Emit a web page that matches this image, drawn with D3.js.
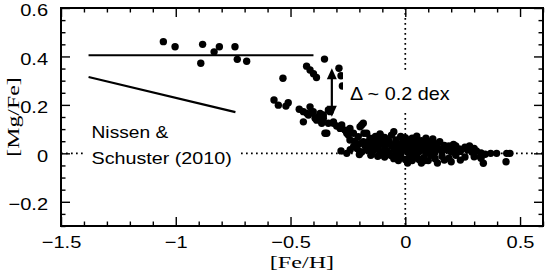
<!DOCTYPE html>
<html><head><meta charset="utf-8">
<script src="https://cdn.jsdelivr.net/npm/d3@7"></script>
<style>body{margin:0;background:#fff}svg{display:block}</style>
</head><body><svg id="c" width="545" height="276"></svg>
<script>
// ---- tick values / labels ----
const xMajor = [-1.5, -1, -0.5, 0, 0.5];
const xLabels = ["−1.5", "−1", "−0.5", "0", "0.5"];
const yMajor = [0.6, 0.4, 0.2, 0, -0.2];
const yLabels = ["0.6", "0.4", "0.2", "0", "−0.2"];

// ---- stars: [Fe/H] and [Mg/Fe] (paired by index) ----
const feH = [
 -1.054,-1.003,-0.883,-0.810,-0.833,-0.891,-0.742,-0.732,-0.691,
 -0.352,-0.430,-0.415,-0.400,-0.387,-0.533,-0.289,-0.280,-0.274,
 -0.572,-0.553,-0.510,-0.520,-0.462,-0.415,-0.408,-0.444,-0.371,-0.357,
 -0.386,-0.350,-0.335,-0.364,-0.429,-0.328,-0.393,
 -0.444,-0.422,-0.401,-0.379,-0.357,-0.335,
 -0.313,-0.284,-0.255,-0.241,-0.197,-0.183,-0.168,-0.146,-0.110,-0.110,
 -0.081,-0.255,-0.197,-0.168,-0.146,-0.110,-0.219,-0.299,-0.342,-0.313,
 -0.277,-0.263,-0.241,-0.248,-0.226,-0.205,-0.190,-0.183,-0.154,-0.139,
 -0.117,-0.103,-0.081,
 -0.25,-0.18,-0.11,-0.05,-0.06,-0.02,0.03,0.05,0.09,0.12,
 0.15,0.22,0.28,-0.13,0.00,0.07,-0.09,
 -0.22,-0.20,-0.17,-0.15,-0.13,-0.12,-0.10,-0.09,-0.07,-0.06,
 -0.04,-0.03,-0.01,0.00,0.01,0.02,0.04,0.05,0.06,0.08,
 0.10,0.11,0.13,0.14,0.17,0.19,0.21,0.26,0.30,
 -0.28,-0.24,-0.21,-0.19,-0.16,-0.14,-0.12,-0.11,-0.09,-0.08,
 -0.07,-0.05,-0.04,-0.03,-0.02,-0.01,0.00,0.01,0.02,0.03,
 0.04,0.05,0.06,0.07,0.08,0.09,0.10,0.11,0.12,0.13,
 0.15,0.16,0.18,0.20,0.22,0.24,0.27,0.29,0.31,0.33,
 -0.20,-0.15,-0.12,-0.09,-0.06,-0.05,-0.03,-0.02,0.00,0.01,
 0.02,0.03,0.05,0.06,0.07,0.08,0.10,0.11,0.13,0.14,
 0.16,0.17,0.19,0.20,0.22,0.24,0.26,0.30,0.34,0.33,
 0.348,0.372,0.398,0.442,0.456,0.439,0.327,
 -0.035,0.015,0.045,0.085,0.125,-0.075,-0.105,0.035,0.065,0.105,
 -0.015,0.025,0.055,0.095,-0.045,0.175,0.205,0.235,-0.175,-0.225
];
const mgFe = [
 0.461,0.440,0.450,0.440,0.419,0.372,0.440,0.388,0.380,
 0.389,0.360,0.344,0.329,0.313,0.310,0.351,0.320,0.278,
 0.220,0.199,0.209,0.195,0.182,0.192,0.168,0.130,0.165,0.145,
 0.137,0.083,0.124,0.124,0.165,0.172,0.145,
 0.172,0.158,0.172,0.151,0.158,0.179,
 0.124,0.103,0.083,0.055,0.110,0.124,0.083,0.055,0.076,0.041,
 0.041,0.000,0.007,0.014,0.000,-0.007,0.034,0.113,0.083,0.130,
 0.117,0.096,0.103,0.076,0.083,0.069,0.117,0.048,0.062,0.041,
 0.069,0.048,0.055,
 0.089,0.083,0.080,0.089,0.075,0.070,0.062,0.071,0.062,0.059,
 0.048,0.030,0.030,0.070,0.065,0.052,0.066,
 0.050,0.040,0.045,0.035,0.052,0.030,0.058,0.038,0.050,0.030,
 0.055,0.040,0.048,0.035,0.055,0.042,0.036,0.050,0.030,0.045,
 0.035,0.048,0.032,0.040,0.033,0.030,0.037,0.025,0.020,
 0.010,0.015,0.020,0.005,0.022,0.012,0.018,0.005,0.022,0.010,
 0.000,0.018,0.008,0.025,0.003,0.015,0.020,0.005,0.025,0.012,
 0.000,0.020,0.008,0.025,0.015,0.002,0.020,0.010,0.024,0.005,
 0.018,0.008,0.015,0.005,0.012,0.008,0.015,0.005,0.010,0.002,
 -0.005,-0.008,-0.012,-0.015,-0.010,-0.022,-0.030,-0.012,-0.025,-0.040,
 -0.015,-0.030,-0.010,-0.025,-0.040,-0.018,-0.030,-0.008,-0.022,-0.040,
 -0.012,-0.028,-0.020,-0.035,-0.008,-0.028,-0.015,-0.014,-0.041,-0.020,
 -0.004,0.000,0.000,0.000,0.000,-0.035,-0.014,
 -0.012,-0.020,-0.018,-0.030,-0.010,-0.005,-0.002,0.028,0.040,0.030,
 0.032,0.045,0.015,0.028,0.038,0.020,0.022,0.018,0.030,0.028
];

// ---- Nissen & Schuster (2010) trend lines ----
const nsHighFe = [-1.38, -0.40];
const nsHighMg = [0.405, 0.405];
const nsLowFe = [-1.38, -0.74];
const nsLowMg = [0.315, 0.170];
// ---- Delta arrow ----
const arrowFe = [-0.320, -0.320];
const arrowMg = [0.351, 0.151];

const svg = d3.select("#c");
const W = 545, H = 276;
const x = d3.scaleLinear().domain([-1.5, 0.6]).range([61, 543]);
const y = d3.scaleLinear().domain([-0.3, 0.6]).range([226, 8]);
const SANS = "'Liberation Sans', Arial, Helvetica, sans-serif";
const SERIF = "'Liberation Serif', 'Times New Roman', serif";
const FSX = 1.18;

svg.append("rect").attr("width", W).attr("height", H).attr("fill", "#fff");

// dotted reference lines
const dot = {stroke: "#000", "stroke-width": 1.7, "stroke-dasharray": "1.7,3.3"};
const vline = svg.append("line").attr("x1", x(0)).attr("x2", x(0)).attr("y1", y(0.6)).attr("y2", y(-0.3));
const hline = svg.append("line").attr("x1", x(-1.5)).attr("x2", x(0.6)).attr("y1", y(0)).attr("y2", y(0));
[vline, hline].forEach(l => Object.entries(dot).forEach(([k, v]) => l.attr(k, v)));

// stars
svg.append("g").selectAll("circle").data(feH.map((f, i) => [f, mgFe[i]])).join("circle")
  .attr("cx", d => x(d[0])).attr("cy", d => y(d[1])).attr("r", 3.7).attr("fill", "#000");

// trend lines
const line = d3.line().x(d => x(d[0])).y(d => y(d[1]));
svg.append("path").attr("d", line(nsHighFe.map((f, i) => [f, nsHighMg[i]])))
  .attr("stroke", "#000").attr("stroke-width", 2.2).attr("fill", "none");
svg.append("path").attr("d", line(nsLowFe.map((f, i) => [f, nsLowMg[i]])))
  .attr("stroke", "#000").attr("stroke-width", 2.2).attr("fill", "none");

// white label boxes
svg.append("rect").attr("x", 343).attr("y", 72).attr("width", 112).attr("height", 38).attr("fill", "#fff");
svg.append("rect").attr("x", 85).attr("y", 118).attr("width", 153).attr("height", 52).attr("fill", "#fff");

// texts
function stretchText(tx, ty, str, size, fam, sx, anchor) {
  svg.append("text").attr("transform", `translate(${tx},${ty}) scale(${sx},1)`)
    .attr("font-family", fam).attr("font-size", size).attr("text-anchor", anchor || "start")
    .attr("fill", "#000").text(str);
}
stretchText(350, 100, "Δ ~ 0.2 dex", 18, SANS, 1.1);
stretchText(91.5, 138, "Nissen &", 17, SANS, 1.13);
stretchText(91.5, 164, "Schuster (2010)", 17, SANS, 1.16);

// arrow
const ax = x(arrowFe[0]), ay1 = y(arrowMg[0]), ay2 = y(arrowMg[1]);
svg.append("line").attr("x1", ax).attr("x2", ax).attr("y1", ay1 + 8).attr("y2", ay2 - 8)
  .attr("stroke", "#000").attr("stroke-width", 2.2);
svg.append("path").attr("d", `M${ax},${ay1}L${ax - 5},${ay1 + 11}L${ax + 5},${ay1 + 11}Z`).attr("fill", "#000");
svg.append("path").attr("d", `M${ax},${ay2}L${ax - 5},${ay2 - 11}L${ax + 5},${ay2 - 11}Z`).attr("fill", "#000");

// axes
const xMinor = d3.range(-15, 7).map(v => v / 10).filter(v => !xMajor.some(m => Math.abs(m - v) < 1e-9));
const yMinor = d3.range(-6, 13).map(v => v / 20).filter(v => !yMajor.some(m => Math.abs(m - v) < 1e-9));

function styleAxis(g) {
  g.select(".domain").remove();
  g.selectAll("line").attr("stroke", "#000").attr("stroke-width", 1.4);
}
const gB = svg.append("g").attr("transform", `translate(0,${y(-0.3)})`)
  .call(d3.axisBottom(x).tickValues(xMajor).tickSize(-9).tickPadding(10).tickFormat((d, i) => xLabels[i]));
styleAxis(gB);
gB.selectAll("text").attr("font-family", SANS).attr("font-size", 17).attr("fill", "#000")
  .attr("transform", `scale(${FSX},1)`);
svg.append("g").attr("transform", `translate(0,${y(-0.3)})`)
  .call(d3.axisBottom(x).tickValues(xMinor).tickSize(-4.5).tickFormat("")).call(styleAxis);
svg.append("g").attr("transform", `translate(0,${y(0.6)})`)
  .call(d3.axisTop(x).tickValues(xMajor).tickSize(-9).tickFormat("")).call(styleAxis);
svg.append("g").attr("transform", `translate(0,${y(0.6)})`)
  .call(d3.axisTop(x).tickValues(xMinor).tickSize(-4.5).tickFormat("")).call(styleAxis);

const gL = svg.append("g").attr("transform", `translate(${x(-1.5)},0)`)
  .call(d3.axisLeft(y).tickValues(yMajor).tickSize(-9).tickPadding(11).tickFormat((d, i) => yLabels[i]));
styleAxis(gL);
gL.selectAll("text").attr("font-family", SANS).attr("font-size", 17).attr("fill", "#000")
  .attr("dy", "0.46em").attr("transform", `scale(${FSX},1)`);
svg.append("g").attr("transform", `translate(${x(-1.5)},0)`)
  .call(d3.axisLeft(y).tickValues(yMinor).tickSize(-4.5).tickFormat("")).call(styleAxis);
svg.append("g").attr("transform", `translate(${x(0.6)},0)`)
  .call(d3.axisRight(y).tickValues(yMajor).tickSize(-9).tickFormat("")).call(styleAxis);
svg.append("g").attr("transform", `translate(${x(0.6)},0)`)
  .call(d3.axisRight(y).tickValues(yMinor).tickSize(-4.5).tickFormat("")).call(styleAxis);

// frame
svg.append("rect").attr("x", x(-1.5)).attr("y", y(0.6)).attr("width", x(0.6) - x(-1.5)).attr("height", y(-0.3) - y(0.6))
  .attr("fill", "none").attr("stroke", "#000").attr("stroke-width", 2);

// axis titles
stretchText((x(-1.5) + x(0.6)) / 2, 268, "[Fe/H]", 17, SERIF, 1.42, "middle");
svg.append("text").attr("transform", `translate(18.5,${(y(0.6) + y(-0.3)) / 2}) rotate(-90) scale(1.4,1)`)
  .attr("font-family", SERIF).attr("font-size", 17).attr("text-anchor", "middle").attr("fill", "#000").text("[Mg/Fe]");
</script></body></html>
